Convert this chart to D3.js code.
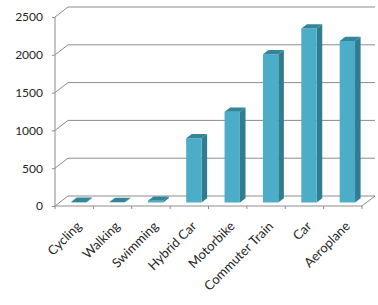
<!DOCTYPE html>
<html><head><meta charset="utf-8">
<script src="https://cdn.jsdelivr.net/npm/d3@7"></script>
<style>body{margin:0;background:#fff}svg{display:block}text{font-family:Lato,"Open Sans",sans-serif;fill:#262626}</style>
</head><body>
<script>
const categories = ["Cycling","Walking","Swimming","Hybrid Car","Motorbike","Commuter Train","Car","Aeroplane"];
const values = [8, 5, 22, 850, 1200, 1960, 2300, 2135];
const yTicks = [0, 500, 1000, 1500, 2000, 2500];

const W = 378, H = 305;
const svg = d3.select("body").append("svg").attr("width", W).attr("height", H);

const x = d3.scaleBand().domain(categories).range([55, 362]).paddingInner(0).paddingOuter(0);
const y = d3.scaleLinear().domain([0, 2500]).range([206, 17]);
const DX = 13, DY = -10;
const off = t => [DX * t, DY * t];

// gridlines (wall)
const grid = svg.append("g");
yTicks.forEach(v => {
  const yy = y(v);
  grid.append("path")
    .attr("d", `M55,${yy}L${55+DX},${yy+DY}L375,${yy+DY}`)
    .attr("fill", "none").attr("stroke", "#8c8c8c").attr("stroke-width", 1);
});
// floor right edge
svg.append("path").attr("d", `M362,${y(0)}L375,${y(0)+DY}`).attr("fill","none").attr("stroke","#8c8c8c");

// y axis
const yAxis = d3.axisLeft(y).tickValues(yTicks).tickSize(3).tickPadding(9).tickFormat(d3.format("d"));
const ga = svg.append("g").attr("transform", "translate(55,0)").call(yAxis);
ga.select(".domain").attr("stroke", "#8c8c8c").attr("d", `M0,${y(2500)}V${y(0)}`);
ga.selectAll(".tick line").attr("stroke", "#8c8c8c");
ga.selectAll("text").style("font-size", "12px").style("font-family", "Lato,'Open Sans',sans-serif").attr("fill", "#262626");

// x axis
const xAxis = d3.axisBottom(x).tickSize(0).tickFormat("");
const gx = svg.append("g").attr("transform", `translate(0,${y(0)})`).call(xAxis);
gx.select(".domain").attr("stroke", "#8c8c8c").attr("d", "M55,0H362");
const bounds = [55].concat(categories.map(c => x(c) + x.bandwidth()));
gx.selectAll(".bt").data(bounds).enter().append("line")
  .attr("x1", d => d).attr("x2", d => d).attr("y1", 0).attr("y2", 3).attr("stroke", "#8c8c8c");

// x labels
svg.append("g").selectAll("text").data(categories).enter().append("text")
  .attr("transform", d => `translate(${x(d) + x.bandwidth()/2 + 8},${y(0) + 21}) rotate(-45)`)
  .attr("text-anchor", "end")
  .style("font-size", "13px")
  .text(d => d);

// bars
const t0 = 0.35, t1 = 0.78, bw = 0.4;
const bars = svg.append("g");
categories.forEach((c, i) => {
  const [ox0, oy0] = off(t0), [ox1, oy1] = off(t1);
  const cx = x(c) + x.bandwidth()/2;
  const half = x.bandwidth() * bw / 2;
  const xl = cx - half + ox0, xr = cx + half + ox0;
  const yb = y(0) + oy0, yt = y(values[i]) + oy0;
  const ddx = ox1 - ox0, ddy = oy1 - oy0;
  bars.append("path").attr("d", `M${xr},${yt}L${xr+ddx},${yt+ddy}L${xr+ddx},${yb+ddy}L${xr},${yb}Z`).attr("fill", "#2e7d92");
  bars.append("path").attr("d", `M${xl},${yt}L${xr},${yt}L${xr},${yb}L${xl},${yb}Z`).attr("fill", "#4badc7");
  bars.append("path").attr("d", `M${xl},${yt}L${xr},${yt}L${xr+ddx},${yt+ddy}L${xl+ddx},${yt+ddy}Z`).attr("fill", "#35859a");
});
</script>
</body></html>
